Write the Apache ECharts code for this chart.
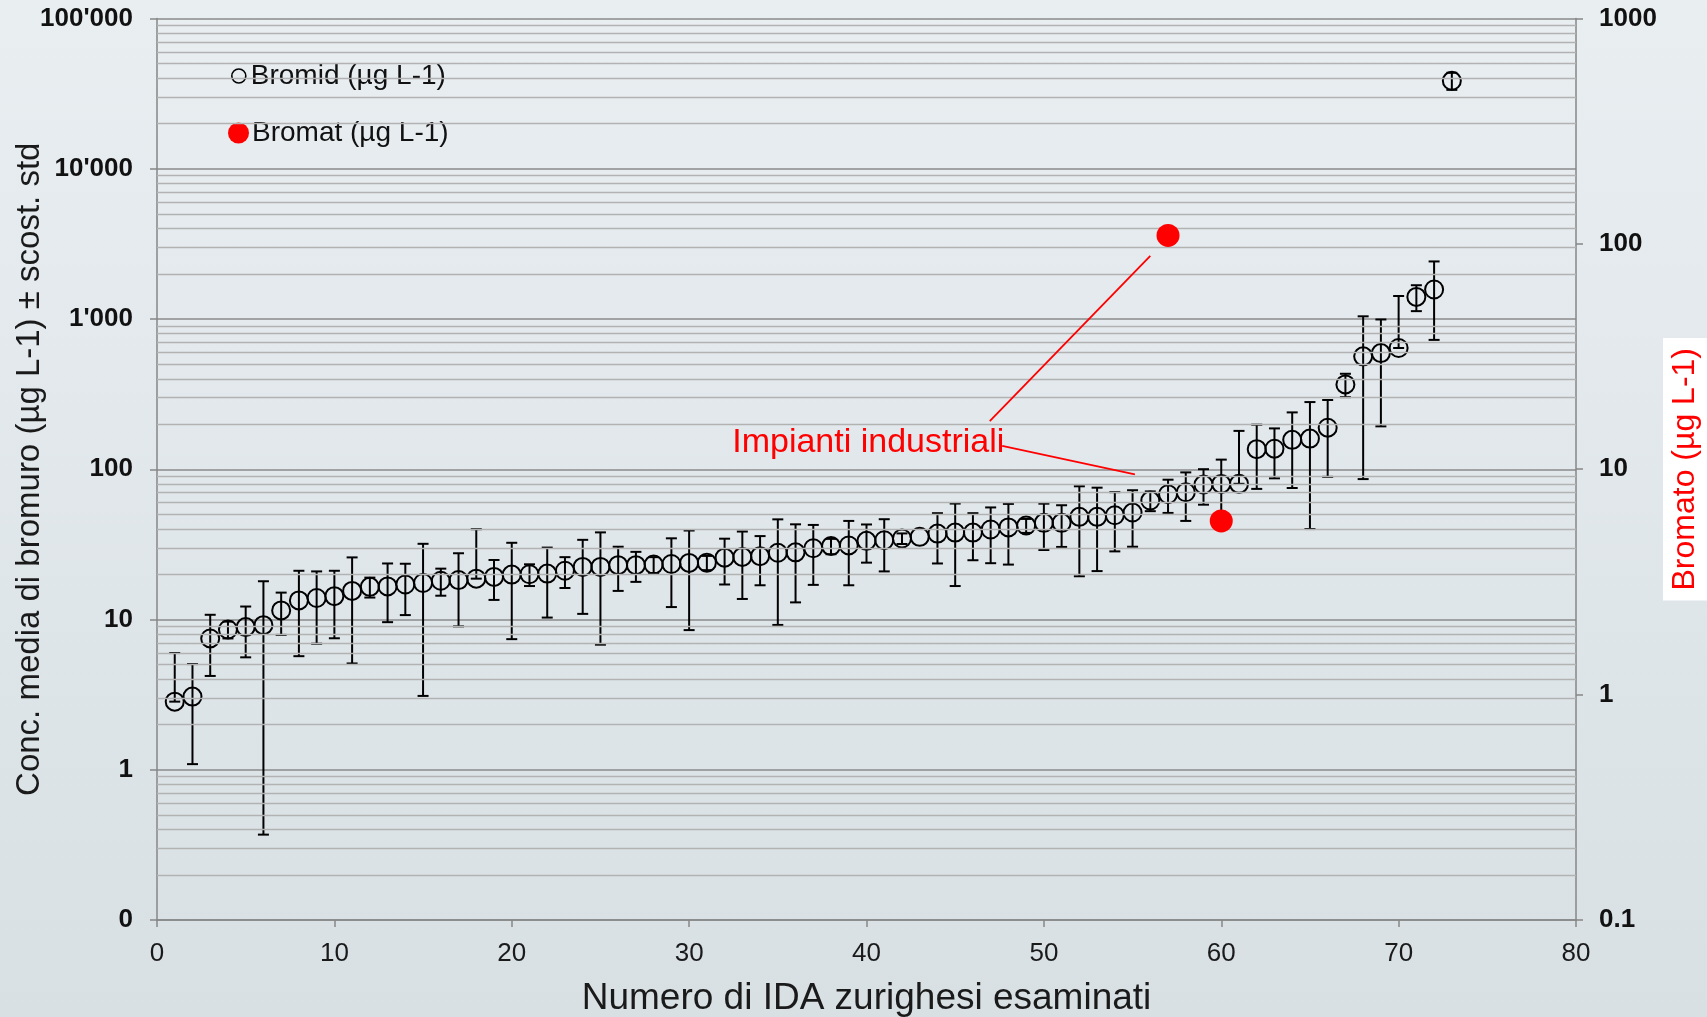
<!DOCTYPE html>
<html>
<head>
<meta charset="utf-8">
<title>Bromid / Bromat</title>
<script src="https://cdn.jsdelivr.net/npm/echarts@6/dist/echarts.min.js"></script>
<style>
  html, body { margin: 0; padding: 0; }
  #chart { width: 1707px; height: 1017px; }
</style>
</head>
<body>
<div id="chart"></div>
<script>
// Bromid: media e scost. std per ogni IDA (1..73)
let bromidMean = [
    2.84, 3.07, 7.48, 8.58, 8.90, 9.17, 11.5, 13.4, 13.9, 14.3,
    15.5, 16.5, 16.6, 17.1, 17.5, 18.1, 18.3, 18.7, 19.2, 19.9,
    20.0, 20.2, 21.1, 22.4, 22.4, 23.0, 23.0, 23.2, 23.4, 23.8,
    23.9, 25.8, 26.1, 26.4, 27.8, 28.0, 29.8, 30.8, 31.1, 33.4,
    33.7, 34.6, 35.5, 37.3, 37.9, 37.9, 39.7, 41.0, 42.2, 44.0,
    44.0, 48.2, 48.2, 49.4, 51.5, 61.9, 68.2, 70.3, 79.1, 79.9,
    80.0, 136, 137, 157, 160, 189, 367, 564, 593, 641,
    1403, 1571, 38500
];
let bromidStd = [
    3.14, 1.98, 3.27, 1.1, 3.3, 8.8, 3.6, 7.7, 7.0, 6.8,
    10.4, 2.5, 7.0, 6.4, 14.4, 3.7, 9.3, 21.2, 5.7, 12.5,
    3.3, 9.9, 4.9, 11.5, 15.6, 7.5, 5.2, 2.8, 11.3, 15.3,
    2.6, 8.7, 12.4, 9.5, 18.6, 15.0, 12.8, 3.6, 14.2, 9.5,
    12.8, 2.8, null, 13.7, 21.2, 13.1, 16, 17.8, 4.5, 15,
    13.6, 28.8, 27.2, 21, 21, 9.3, 17, 25, 21, 36,
    100, 62, 50, 82, 120, 100, 65, 478, 400, 781,
    275, 845, 5000
];
// Bromat (asse destro)
let bromatX = [57, 60];
let bromatVal = [109, 5.9];

let xTicks = { min: 0, max: 80, step: 10 };
let leftLabels = { 0.1: "0", 1: "1", 10: "10", 100: "100", 1000: "1'000", 10000: "10'000", 100000: "100'000" };

// annotazione "Impianti industriali" (coordinate nei dati)
let noteText = 'Impianti industriali';
let notePos = [40.1, 151];
let noteLines = [
    [[46.95, 209], [56.0, 2630]],
    [[47.65, 143], [55.13, 92.3]]
];

let FONT = "'Liberation Sans', Arial, sans-serif";

let bromidPts = bromidMean.map((v, i) => [i + 1, v]);
let errData = [];
bromidMean.forEach((v, i) => {
    let s = bromidStd[i];
    if (s == null) return;
    let lo = v - s > 0 ? v - s : v; // su scala log: se negativo resta al centro
    errData.push([i + 1, lo, v + s]);
});
let bromatPts = bromatX.map((x, i) => [x, bromatVal[i]]);

// linee secondarie della griglia (2..9 per decade)
let minorLines = [];
for (let e = -1; e < 5; e++) {
    for (let m = 2; m <= 9; m++) minorLines.push({ yAxis: m * Math.pow(10, e) });
}

function renderErr(params, api) {
    let x = api.value(0);
    let pLo = api.coord([x, api.value(1)]);
    let pHi = api.coord([x, api.value(2)]);
    let w = 5.5;
    let st = { stroke: '#000', lineWidth: 2 };
    return {
        type: 'group',
        children: [
            { type: 'line', shape: { x1: pHi[0], y1: pHi[1], x2: pLo[0], y2: pLo[1] }, style: st },
            { type: 'line', shape: { x1: pHi[0] - w, y1: pHi[1], x2: pHi[0] + w, y2: pHi[1] }, style: st },
            { type: 'line', shape: { x1: pLo[0] - w, y1: pLo[1], x2: pLo[0] + w, y2: pLo[1] }, style: st }
        ]
    };
}

let chart = echarts.init(document.getElementById('chart'));
chart.setOption({
    backgroundColor: {
        type: 'linear', x: 0, y: 0, x2: 0, y2: 1,
        colorStops: [{ offset: 0, color: '#e9eef1' }, { offset: 1, color: '#d8e0e4' }]
    },
    animation: false,
    grid: { left: 157, right: 131, top: 18.5, bottom: 97, outerBoundsMode: 'none', containLabel: false },
    legend: [{
        left: 226, top: 57, itemWidth: 14, itemHeight: 14, itemGap: 0,
        textStyle: { fontFamily: FONT, fontSize: 28, color: '#111', padding: [0, 0, 0, 0] },
        data: [{ name: 'Bromid (µg L-1)', icon: 'circle',
            itemStyle: { color: 'rgba(0,0,0,0)', borderColor: '#000', borderWidth: 1.6, opacity: 1 } }]
    }, {
        left: 223, top: 114, itemWidth: 21, itemHeight: 21, itemGap: 0,
        textStyle: { fontFamily: FONT, fontSize: 28, color: '#111', padding: [0, 0, 0, -2] },
        data: [{ name: 'Bromat (µg L-1)', icon: 'circle', itemStyle: { color: '#ff0000', opacity: 1 } }]
    }],
    xAxis: {
        type: 'value', min: xTicks.min, max: xTicks.max, interval: xTicks.step,
        name: 'Numero di IDA zurighesi esaminati', nameLocation: 'middle', nameGap: 60,
        nameTextStyle: { fontFamily: FONT, fontSize: 37, color: '#1a1a1a' },
        axisLine: { lineStyle: { color: '#868686', width: 1.5 } },
        axisTick: { show: true, length: 7, lineStyle: { color: '#868686', width: 1.5 } },
        axisLabel: { fontFamily: FONT, fontSize: 26, color: '#1a1a1a', margin: 21 },
        splitLine: { show: false }
    },
    yAxis: [{
        type: 'log', logBase: 10, min: 0.1, max: 100000, interval: 1,
        name: 'Conc. media di bromuro (µg L-1) ± scost. std', nameLocation: 'middle', nameGap: 111,
        nameRotate: 90, nameMoveOverlap: false,
        nameTextStyle: { fontFamily: FONT, fontSize: 33, color: '#1a1a1a' },
        axisLine: { show: true, lineStyle: { color: '#868686', width: 1.5 } },
        axisTick: { show: true, length: 7, lineStyle: { color: '#868686', width: 1.5 } },
        axisLabel: {
            fontFamily: FONT, fontSize: 26, fontWeight: 'bold', color: '#111', margin: 24,
            formatter: v => leftLabels[+v.toPrecision(6)] != null ? leftLabels[+v.toPrecision(6)] : v
        },
        splitLine: { show: true, lineStyle: { color: '#8a8a8a', width: 1.5 } }
    }, {
        type: 'log', logBase: 10, min: 0.1, max: 1000, interval: 1,
        position: 'right',
        name: 'Bromato (µg L-1)', nameLocation: 'middle', nameGap: 87, nameRotate: 90,
        nameMoveOverlap: false,
        nameTextStyle: {
            fontFamily: FONT, fontSize: 32, color: '#ff0000',
            backgroundColor: '#ffffff', padding: [6, 10, 14, 10]
        },
        axisLine: { show: true, lineStyle: { color: '#868686', width: 1.5 } },
        axisTick: { show: true, length: 7, lineStyle: { color: '#868686', width: 1.5 } },
        axisLabel: {
            fontFamily: FONT, fontSize: 26, fontWeight: 'bold', color: '#111', margin: 23,
            formatter: v => String(+v.toPrecision(6))
        },
        splitLine: { show: false }
    }],
    series: [{
        // griglia secondaria
        type: 'line', data: [], yAxisIndex: 0, z: 0, silent: true,
        markLine: {
            silent: true, symbol: 'none', label: { show: false }, animation: false,
            lineStyle: { color: '#b2b2b2', width: 1.3, type: 'solid' },
            data: minorLines
        }
    }, {
        type: 'custom', name: 'err', yAxisIndex: 0, z: 3,
        renderItem: renderErr,
        encode: { x: 0, y: [1, 2] },
        data: errData
    }, {
        name: 'Bromid (µg L-1)', type: 'scatter', yAxisIndex: 0, z: 4,
        symbol: 'circle', symbolSize: 18,
        itemStyle: { color: 'rgba(0,0,0,0)', borderColor: '#000', borderWidth: 2, opacity: 1 },
        data: bromidPts
    }, {
        name: 'Bromat (µg L-1)', type: 'scatter', yAxisIndex: 1, z: 10,
        symbol: 'circle', symbolSize: 23,
        itemStyle: { color: '#ff0000', opacity: 1 },
        data: bromatPts
    }, {
        // annotazione
        type: 'line', data: [], yAxisIndex: 0, z: 6, silent: true,
        markLine: {
            silent: true, symbol: 'none', label: { show: false }, animation: false,
            lineStyle: { color: '#ff0000', width: 1.8, type: 'solid' },
            data: noteLines.map(l => [{ coord: l[0] }, { coord: l[1] }])
        },
        markPoint: {
            silent: true, symbol: 'circle', symbolSize: 1,
            itemStyle: { color: 'rgba(0,0,0,0)' },
            label: {
                show: true, position: 'inside', formatter: noteText,
                fontFamily: FONT, fontSize: 34, color: '#ff0000'
            },
            data: [{ coord: notePos }]
        }
    }]
});
</script>
</body>
</html>
